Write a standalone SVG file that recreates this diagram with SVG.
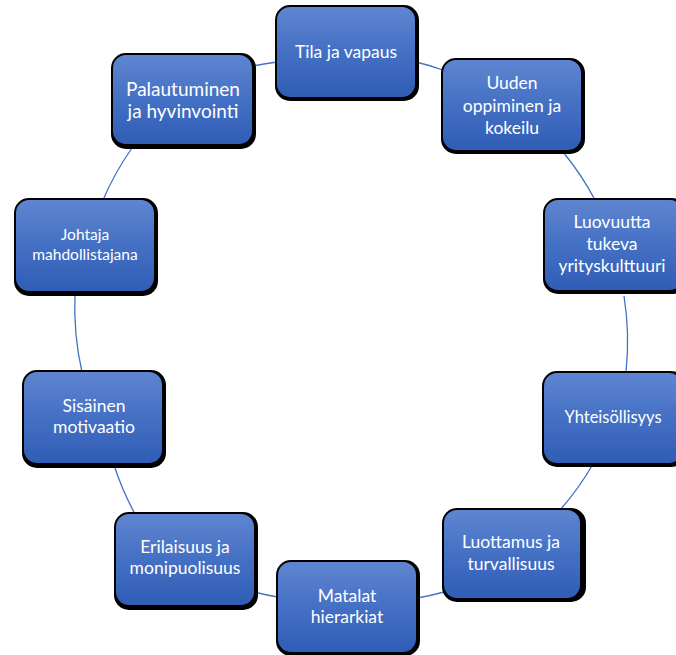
<svg xmlns="http://www.w3.org/2000/svg" width="676" height="655" viewBox="0 0 676 655">
<defs>
<linearGradient id="g" x1="0" y1="0" x2="0" y2="1">
<stop offset="0" stop-color="#5f85d0"/>
<stop offset="0.5" stop-color="#4470c4"/>
<stop offset="1" stop-color="#305db5"/>
</linearGradient>
</defs>
<style>
.edge{fill:none;stroke:#4472c4;stroke-width:1.3}
.sh{fill:#000}
.bx{fill:url(#g)}
.t{fill:#fff;font-family:Lato,"Liberation Sans",sans-serif;font-size:17.5px;text-anchor:middle}
</style>
<rect width="676" height="655" fill="#fff"/>
<g id="connectors">
<path class="edge" d="M253,66 A270,280 0 0 1 277,62"/>
<path class="edge" d="M416,62 A270,280 0 0 1 443,70"/>
<path class="edge" d="M563,152 A270,280 0 0 1 595,200"/>
<path class="edge" d="M624,296 A270,280 0 0 1 626,372"/>
<path class="edge" d="M593,464 A270,280 0 0 1 560,510"/>
<path class="edge" d="M444,592 A270,280 0 0 1 417,598"/>
<path class="edge" d="M278,597 A270,280 0 0 1 254,592"/>
<path class="edge" d="M135,514 A270,280 0 0 1 114,465"/>
<path class="edge" d="M82,372 A270,280 0 0 1 75,295"/>
<path class="edge" d="M103,200 A270,280 0 0 1 132,148"/>
</g>
<g id="n1">
<rect class="sh" x="275" y="5" width="144" height="96" rx="15"/>
<rect class="bx" x="277" y="7" width="138" height="90" rx="13"/>
<text class="t" x="346" y="58">Tila ja vapaus</text>
</g>
<g id="n2">
<rect class="sh" x="441" y="58" width="144" height="96" rx="15"/>
<rect class="bx" x="443" y="60" width="138" height="90" rx="13"/>
<text class="t" x="512" y="89">Uuden</text>
<text class="t" x="512" y="112">oppiminen ja</text>
<text class="t" x="512" y="134">kokeilu</text>
</g>
<g id="n3">
<rect class="sh" x="543" y="198" width="144" height="96" rx="15"/>
<rect class="bx" x="545" y="200" width="138" height="90" rx="13"/>
<text class="t" x="612" y="228">Luovuutta</text>
<text class="t" x="612" y="250">tukeva</text>
<text class="t" x="612" y="272">yrityskulttuuri</text>
</g>
<g id="n4">
<rect class="sh" x="542" y="371" width="144" height="96" rx="15"/>
<rect class="bx" x="544" y="373" width="138" height="90" rx="13"/>
<text class="t" x="613" y="423" style="font-size:16.5px">Yhteisöllisyys</text>
</g>
<g id="n5">
<rect class="sh" x="442" y="508" width="144" height="94" rx="15"/>
<rect class="bx" x="444" y="510" width="136" height="88" rx="13"/>
<text class="t" x="511" y="548">Luottamus ja</text>
<text class="t" x="511" y="570">turvallisuus</text>
</g>
<g id="n6">
<rect class="sh" x="276" y="560" width="144" height="96" rx="15"/>
<rect class="bx" x="278" y="562" width="138" height="90" rx="13"/>
<text class="t" x="347" y="602">Matalat</text>
<text class="t" x="347" y="623">hierarkiat</text>
</g>
<g id="n7">
<rect class="sh" x="114" y="512" width="144" height="98" rx="15"/>
<rect class="bx" x="116" y="514" width="138" height="91" rx="13"/>
<text class="t" x="185" y="553">Erilaisuus ja</text>
<text class="t" x="185" y="574">monipuolisuus</text>
</g>
<g id="n8">
<rect class="sh" x="22" y="370" width="144" height="98" rx="15"/>
<rect class="bx" x="24" y="372" width="138" height="91" rx="13"/>
<text class="t" x="94" y="412">Sisäinen</text>
<text class="t" x="94" y="433">motivaatio</text>
</g>
<g id="n9">
<rect class="sh" x="14" y="198" width="144" height="98" rx="15"/>
<rect class="bx" x="16" y="200" width="138" height="91" rx="13"/>
<text class="t" x="85" y="240" style="font-size:15.5px">Johtaja</text>
<text class="t" x="85" y="260" style="font-size:15.5px">mahdollistajana</text>
</g>
<g id="n10">
<rect class="sh" x="111" y="53" width="145" height="96" rx="15"/>
<rect class="bx" x="113" y="55" width="139" height="89" rx="13"/>
<text class="t" x="183" y="96" style="font-size:19px">Palautuminen</text>
<text class="t" x="183" y="118" style="font-size:19px">ja hyvinvointi</text>
</g>
</svg>
